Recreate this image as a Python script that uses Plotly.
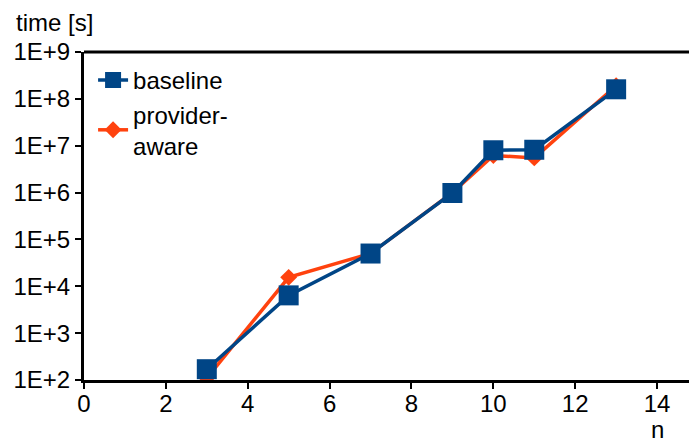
import plotly.graph_objects as go

n_values = [3, 5, 7, 9, 10, 11, 13]
baseline = [170, 6400, 50000, 980000, 8.0e6, 8.2e6, 1.6e8]
provider_aware = [110, 15500, 50000, 1.0e6, 6.2e6, 5.5e6, 1.9e8]
y_tick_vals = [1e2, 1e3, 1e4, 1e5, 1e6, 1e7, 1e8, 1e9]
y_tick_text = ["1E+2", "1E+3", "1E+4", "1E+5", "1E+6", "1E+7", "1E+8", "1E+9"]

BLUE = "#004586"
ORANGE = "#ff420e"
FONT = "Liberation Sans, Arial, sans-serif"
FS = 24

fig = go.Figure()
fig.add_trace(go.Scatter(
    x=n_values, y=provider_aware, name="provider-<br>aware", mode="lines+markers",
    line=dict(color=ORANGE, width=3.5),
    marker=dict(symbol="diamond", size=13, color=ORANGE),
))
fig.add_trace(go.Scatter(
    x=n_values, y=baseline, name="baseline", mode="lines+markers",
    line=dict(color=BLUE, width=3.5),
    marker=dict(symbol="square", size=20, color=BLUE),
))

fig.update_layout(
    width=689, height=445,
    margin=dict(l=84, r=0, t=52, b=65),
    paper_bgcolor="white", plot_bgcolor="white",
    font=dict(family=FONT, size=FS, color="black"),
    showlegend=True,
    legend=dict(x=0.015, y=0.982, xanchor="left", yanchor="top",
                bgcolor="rgba(0,0,0,0)", font=dict(size=FS),
                traceorder="reversed", itemwidth=30, tracegroupgap=0),
    xaxis=dict(range=[0, 14.78], tickvals=[0, 2, 4, 6, 8, 10, 12, 14],
               showgrid=False, zeroline=False, showline=True, linecolor="black",
               linewidth=3, ticks="outside", ticklen=6, tickwidth=2,
               tickcolor="black", tickfont=dict(size=FS), ticklabelstandoff=-6),
    yaxis=dict(type="log", range=[2, 9], tickvals=y_tick_vals, ticktext=y_tick_text,
               showgrid=False, zeroline=False, showline=True, linecolor="black",
               linewidth=3, ticks="outside", ticklen=6, tickwidth=2,
               tickcolor="black", tickfont=dict(size=FS)),
    shapes=[dict(type="line", xref="paper", yref="paper", x0=0, x1=1, y0=1, y1=1,
                 line=dict(color="black", width=3))],
    annotations=[
        dict(text="time [s]", xref="paper", yref="paper", x=-0.115, y=1.0,
             xanchor="left", yanchor="bottom", yshift=14, showarrow=False,
             font=dict(size=FS)),
        dict(text="n", xref="x", yref="paper", x=14, y=-65 / 328, xanchor="center",
             yanchor="bottom", showarrow=False, font=dict(size=FS)),
    ],
)
fig.write_html("out.html")
